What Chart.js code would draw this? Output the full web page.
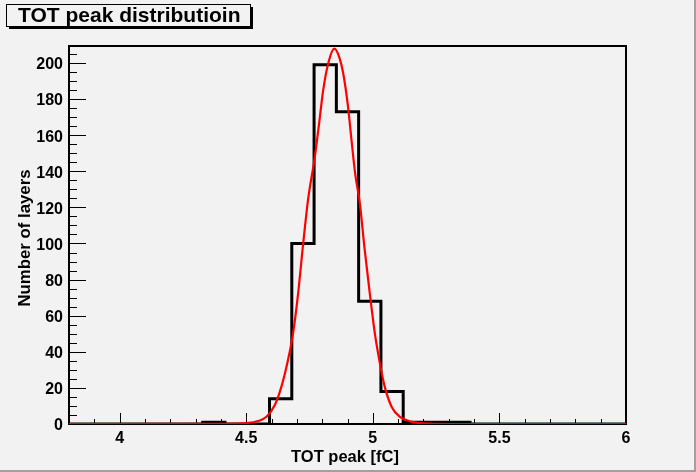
<!DOCTYPE html>
<html>
<head>
<meta charset="utf-8">
<script src="https://cdn.jsdelivr.net/npm/chart.js@4.4.1/dist/chart.umd.min.js"></script>
<style>
  html, body { margin: 0; padding: 0; background: #f2f2f2; }
  #wrap { position: relative; width: 696px; height: 472px; }
</style>
</head>
<body>
<div id="wrap"><canvas id="chart" width="696" height="472"></canvas></div>
<script>
// histogram: 25 bins between 3.8 and 6
const binEdges = [3.8, 3.888, 3.976, 4.064, 4.152, 4.24, 4.328, 4.416, 4.504, 4.592, 4.68,
  4.768, 4.856, 4.944, 5.032, 5.12, 5.208, 5.296, 5.384, 5.472, 5.56, 5.648, 5.736,
  5.824, 5.912, 6.0];
const binCounts = [0, 0, 0, 0, 0, 0, 1, 0, 0, 14, 100, 199, 173, 68, 18, 1, 1, 1,
  0, 0, 0, 0, 0, 0, 0];

// gaussian fit curve
const fitX = [3.8, 4.4, 4.5, 4.55, 4.58, 4.613, 4.639, 4.665, 4.685, 4.705, 4.725, 4.744,
  4.771, 4.788, 4.804, 4.826, 4.848, 4.868, 4.883, 4.902, 4.916, 4.93, 4.949, 4.968,
  4.988, 5.008, 5.028, 5.047, 5.074, 5.107, 5.15, 5.2, 5.3, 6.0];
const fitY = [0, 0.1, 0.5, 1.8, 4, 10.5, 20.7, 35.5, 50.2, 72.4, 100, 124,
  148, 166.6, 185, 201, 208, 203, 194.3, 175.8, 157, 139, 122, 96.4,
  72.4, 50.2, 33.6, 20.7, 9.6, 4, 1.3, 0.3, 0, 0];

// axes
const xMin = 3.8, xMax = 6.0;
const yMin = 0, yMax = 209.4;
const xTicks = [4, 4.5, 5, 5.5, 6];
const xMinorTicks = [3.8, 3.9, 4.0, 4.1, 4.2, 4.3, 4.4, 4.5, 4.6, 4.7, 4.8, 4.9, 5.0,
  5.1, 5.2, 5.3, 5.4, 5.5, 5.6, 5.7, 5.8, 5.9, 6.0];
const yTicks = [0, 20, 40, 60, 80, 100, 120, 140, 160, 180, 200];
const yMinorTicks = [0, 5, 10, 15, 20, 25, 30, 35, 40, 45, 50, 55, 60, 65, 70, 75, 80,
  85, 90, 95, 100, 105, 110, 115, 120, 125, 130, 135, 140, 145, 150, 155, 160, 165,
  170, 175, 180, 185, 190, 195, 200, 205];

const titleText = 'TOT peak distributioin';
const xTitle = 'TOT peak [fC]';
const yTitle = 'Number of layers';

const FONT = '"Liberation Sans", Arial, Helvetica, sans-serif';

const histPoints = binEdges.map((e, i) => ({ x: e, y: binCounts[Math.min(i, binCounts.length - 1)] }));
const fitPoints = fitX.map((x, i) => ({ x: x, y: fitY[i] }));

// frame + inward ticks, like ROOT
const framePlugin = {
  id: 'frame',
  beforeDatasetsDraw(chart) {
    const { ctx, chartArea: a, scales: { x, y } } = chart;
    ctx.save();
    ctx.strokeStyle = '#000';
    ctx.lineWidth = 1;
    ctx.beginPath();
    xMinorTicks.forEach(v => {
      const p = Math.round(x.getPixelForValue(v)) + 0.5;
      const len = xTicks.some(t => Math.abs(t - v) < 1e-6) ? 11 : 5;
      ctx.moveTo(p, a.bottom);
      ctx.lineTo(p, a.bottom - len);
    });
    yMinorTicks.forEach(v => {
      const p = Math.round(y.getPixelForValue(v)) + 0.5;
      const len = yTicks.includes(v) ? 17 : 8;
      ctx.moveTo(a.left, p);
      ctx.lineTo(a.left + len, p);
    });
    ctx.stroke();
    ctx.lineWidth = 2;
    ctx.strokeRect(a.left, a.top, a.right - a.left, a.bottom - a.top);
    ctx.restore();
  },
  afterDraw(chart) {
    const { ctx } = chart;
    ctx.save();
    // title box with shadow
    ctx.fillStyle = '#000';
    ctx.fillRect(9, 7, 244, 22);
    ctx.fillStyle = '#f2f2f2';
    ctx.fillRect(7, 4, 244, 23);
    ctx.strokeStyle = '#000';
    ctx.lineWidth = 1;
    ctx.strokeRect(6.5, 4.5, 244, 22);
    ctx.fillStyle = '#000';
    ctx.font = 'bold 21px ' + FONT;
    ctx.textBaseline = 'alphabetic';
    ctx.textAlign = 'left';
    ctx.fillText(titleText, 18, 22);

    // axis titles
    ctx.font = 'bold 16.5px ' + FONT;
    ctx.textAlign = 'center';
    ctx.fillText(xTitle, 345, 462);
    ctx.save();
    ctx.font = 'bold 16.8px ' + FONT;
    ctx.translate(30, 238);
    ctx.rotate(-Math.PI / 2);
    ctx.fillText(yTitle, 0, 0);
    ctx.restore();

    // canvas bevel
    ctx.fillStyle = '#a0a0a0';
    ctx.fillRect(0, 470, 696, 2);
    ctx.fillRect(694, 0, 2, 472);
    ctx.restore();
  }
};

new Chart(document.getElementById('chart'), {
  type: 'line',
  data: {
    datasets: [
      {
        label: 'fit',
        data: fitPoints,
        borderColor: '#ff0000',
        borderWidth: 2.2,
        pointRadius: 0,
        cubicInterpolationMode: 'monotone',
        fill: false,
        order: 1
      },
      {
        label: 'histogram',
        data: histPoints,
        borderColor: '#000000',
        borderWidth: 3,
        pointRadius: 0,
        stepped: 'before',
        fill: false,
        order: 2
      }
    ]
  },
  options: {
    responsive: false,
    animation: false,
    devicePixelRatio: 1,
    layout: { padding: { left: 0, top: 46, right: 70, bottom: 0 } },
    plugins: {
      legend: { display: false },
      tooltip: { enabled: false },
      title: { display: false }
    },
    scales: {
      x: {
        type: 'linear',
        min: xMin,
        max: xMax,
        grid: { display: false, drawTicks: false },
        border: { display: false },
        afterBuildTicks: s => { s.ticks = xTicks.map(v => ({ value: v })); },
        afterFit: s => { s.height = 48; },
        ticks: {
          color: '#000',
          padding: 5,
          maxRotation: 0,
          autoSkip: false,
          font: { family: FONT, size: 16, weight: 'bold' },
          callback: v => String(v)
        }
      },
      y: {
        type: 'linear',
        min: yMin,
        max: yMax,
        grid: { display: false, drawTicks: false },
        border: { display: false },
        afterBuildTicks: s => { s.ticks = yTicks.map(v => ({ value: v })); },
        afterFit: s => { s.width = 69; },
        ticks: {
          color: '#000',
          padding: 6,
          labelOffset: 2,
          autoSkip: false,
          font: { family: FONT, size: 16, weight: 'bold' },
          callback: v => String(v)
        }
      }
    }
  },
  plugins: [framePlugin]
});
</script>
</body>
</html>
